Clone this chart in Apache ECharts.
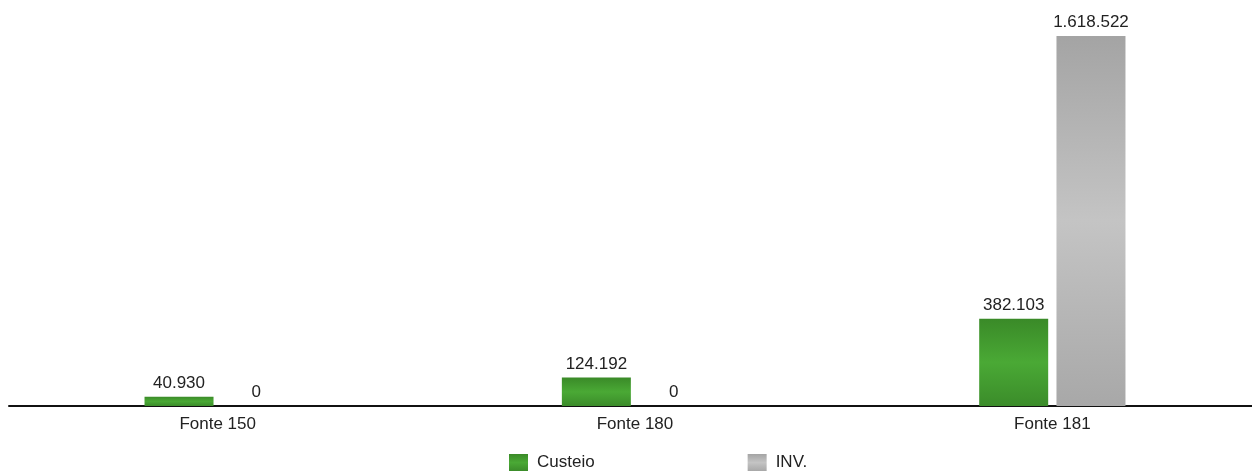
<!DOCTYPE html>
<html>
<head>
<meta charset="utf-8">
<script src="https://cdn.jsdelivr.net/npm/echarts@6/dist/echarts.min.js"></script>
<style>
html,body{margin:0;padding:0;background:#fff;}
#main{width:1252px;height:471px;}
</style>
</head>
<body>
<div id="main"></div>
<script>
const categories = ['Fonte 150', 'Fonte 180', 'Fonte 181'];
const custeio = [40930, 124192, 382103];
const inv = [0, 0, 1618522];
const seriesNames = ['Custeio', 'INV.'];

const fmt = v => String(v).replace(/\B(?=(\d{3})+(?!\d))/g, '.');
const green = new echarts.graphic.LinearGradient(0, 0, 0, 1, [
  {offset: 0, color: '#3a8a28'}, {offset: 0.5, color: '#4aa935'}, {offset: 1, color: '#3b8c2a'}
]);
const grey = new echarts.graphic.LinearGradient(0, 0, 0, 1, [
  {offset: 0, color: '#a4a4a4'}, {offset: 0.5, color: '#c4c4c4'}, {offset: 1, color: '#a8a8a8'}
]);
const font = 'Liberation Sans, Arial, Helvetica, sans-serif';
const chart = echarts.init(document.getElementById('main'));
chart.setOption({
  animation: false,
  textStyle: {fontFamily: font},
  grid: {left: 9, width: 1252, top: 36, height: 370, containLabel: false, outerBoundsMode: 'none'},
  legend: {
    top: 449, left: 504, itemWidth: 19, itemHeight: 17, itemGap: 153,
    icon: 'rect',
    textStyle: {fontSize: 17, color: '#222', fontFamily: font, padding: [0, 0, 0, 4]},
    data: seriesNames
  },
  xAxis: {
    type: 'category', data: categories,
    axisLine: {lineStyle: {color: '#111', width: 2}},
    axisTick: {show: false},
    axisLabel: {fontSize: 17, color: '#222', margin: 10, fontFamily: font}
  },
  yAxis: {type: 'value', min: 0, max: 1618522, show: false, splitLine: {show: false}},
  series: [
    {name: seriesNames[0], type: 'bar', data: custeio, barWidth: 69, barGap: '12%',
     itemStyle: {color: green},
     label: {show: true, position: 'top', distance: 5, fontSize: 17, color: '#222', fontFamily: font, formatter: p => fmt(p.value)}},
    {name: seriesNames[1], type: 'bar', data: inv, barWidth: 69,
     itemStyle: {color: grey},
     label: {show: true, position: 'top', distance: 5, fontSize: 17, color: '#222', fontFamily: font, formatter: p => fmt(p.value)}}
  ]
});
</script>
</body>
</html>
